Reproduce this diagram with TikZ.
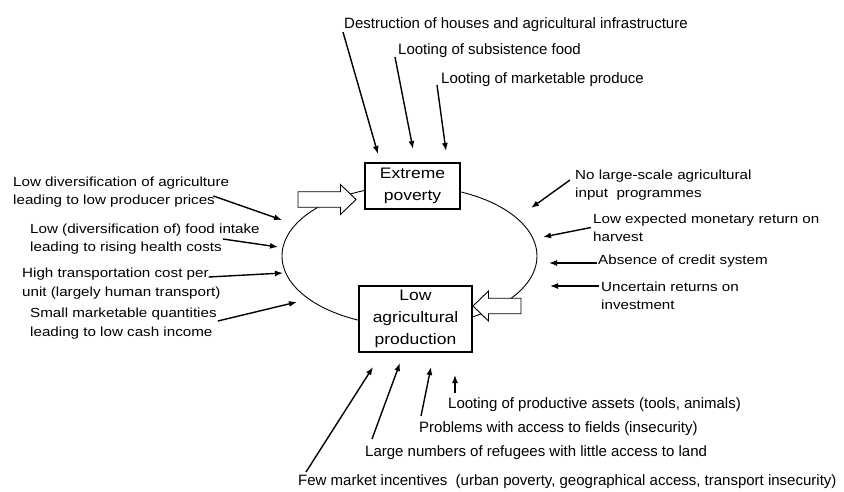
\documentclass[tikz,border=0pt]{standalone}
\usepackage{fontspec}
\setmainfont{Liberation Sans}
\newfontfamily\labelfont[FakeStretch=1.15]{Liberation Sans}
\usetikzlibrary{arrows.meta,shapes.geometric,shapes.arrows}
\tikzset{
	toplabel/.style={inner sep=0pt, anchor=base west, font=\fontsize{15}{18}\selectfont},
	sidelabel/.style={inner sep=0pt, anchor=west, align=left, font=\labelfont\fontsize{13.2}{18.3}\selectfont},
	statebox/.style={draw, line width=1.1pt, fill=white, align=center, inner sep=0pt, font=\labelfont\fontsize{15.2}{22}\selectfont},
	hollow/.style={single arrow, draw, fill=white, line width=0.9pt, inner xsep=0pt, inner ysep=7.3pt, minimum width=29pt, single arrow head extend=7.2pt, single arrow tip angle=88},
	cause/.style={-{Latex[length=8pt,width=6pt]}, line width=1.4pt},
}
\begin{document}
\begin{tikzpicture}[x=1pt,y=-1pt]
	\useasboundingbox (0,0) rectangle (844,491);
	\node	(cycle) at (409.5,256) [draw, ellipse, line width=0.9pt, inner sep=0pt, minimum width=255pt, minimum height=140pt] {};
	\node	(poverty) at (412.5,186) [statebox, minimum width=95pt, minimum height=46pt] {Extreme\\poverty};
	\node	(production) at (415.5,319) [statebox, minimum width=113pt, minimum height=66pt] {Low\\agricultural\\production};
	\node	(intopoverty) at (323,199.5) [hollow, minimum height=58pt] {};
	\node	(intoproduction) at (501,306) [hollow, minimum height=48pt, shape border rotate=180] {};
	
	\node	(t1) at (344,28) [toplabel] {Destruction of houses and agricultural infrastructure};
	\node	(t2) at (398,54) [toplabel] {Looting of subsistence food};
	\node	(t3) at (441,83) [toplabel] {Looting of marketable produce};
	
	\node	(l1) at (13,192) [sidelabel] {Low diversification of agriculture\\leading to low producer prices};
	\node	(l2) at (30,239) [sidelabel] {Low (diversification of) food intake\\leading to rising health costs};
	\node	(l3) at (22,283.5) [sidelabel] {High transportation cost per\\unit (largely human transport)};
	\node	(l4) at (30,323.5) [sidelabel] {Small marketable quantities\\leading to low cash income};
	
	\node	(r1) at (575,185) [sidelabel] {No large-scale agricultural\\input~ programmes};
	\node	(r2) at (593,227.5) [sidelabel] {Low expected monetary return on\\harvest};
	\node	(r3) at (598,261) [sidelabel] {Absence of credit system};
	\node	(r4) at (601,296) [sidelabel] {Uncertain returns on\\investment};
	
	\node	(b1) at (448,408) [toplabel] {Looting of productive assets (tools, animals)};
	\node	(b2) at (419,432) [toplabel] {Problems with access to fields (insecurity)};
	\node	(b3) at (365,456) [toplabel] {Large numbers of refugees with little access to land};
	\node	(b4) at (298,485) [toplabel] {Few market incentives~ (urban poverty, geographical access, transport insecurity)};
	
	\coordinate (t1tip) at (378,154);
	\coordinate (t2tip) at (413,149);
	\coordinate (t3tip) at (446,151);
	\coordinate (l1tip) at (282,220);
	\coordinate (l2tip) at (278,247);
	\coordinate (l3tip) at (283,273);
	\coordinate (l4tip) at (297,302);
	\coordinate (r1tip) at (531,208);
	\coordinate (r2tip) at (543,237);
	\coordinate (r3tip) at (549,263);
	\coordinate (r4tip) at (550,286);
	\coordinate (b1tip) at (455,375);
	\coordinate (b2tip) at (431,367);
	\coordinate (b3tip) at (400,363);
	\coordinate (b4tip) at (373,367);
	
	\draw 
	([xshift=-1pt,yshift=-4pt]t1.base west) edge[cause] (t1tip)
	([xshift=-3pt,yshift=-3pt]t2.base west) edge[cause] (t2tip)
	([xshift=-4pt,yshift=-2pt]t3.base west) edge[cause] (t3tip)
	([xshift=-16pt,yshift=-4pt]l1.east) edge[cause] (l1tip)
	([xshift=-37pt]l2.east) edge[cause] (l2tip)
	([xshift=-12pt,yshift=6.5pt]l3.east) edge[cause] (l3tip)
	([xshift=1pt,yshift=2.5pt]l4.east) edge[cause] (l4tip)
	([xshift=-5pt,yshift=5pt]r1.west) edge[cause] (r1tip)
	([xshift=-2pt]r2.west) edge[cause] (r2tip)
	([xshift=-1pt,yshift=-2pt]r3.west) edge[cause] (r3tip)
	([xshift=-2pt,yshift=10pt]r4.west) edge[cause] (r4tip)
	([xshift=7pt,yshift=15pt]b1.base west) edge[cause] (b1tip)
	([xshift=2pt,yshift=16pt]b2.base west) edge[cause] (b2tip)
	([xshift=7pt,yshift=17pt]b3.base west) edge[cause] (b3tip)
	([xshift=8pt,yshift=13pt]b4.base west) edge[cause] (b4tip)
	;
\end{tikzpicture}
\end{document}
